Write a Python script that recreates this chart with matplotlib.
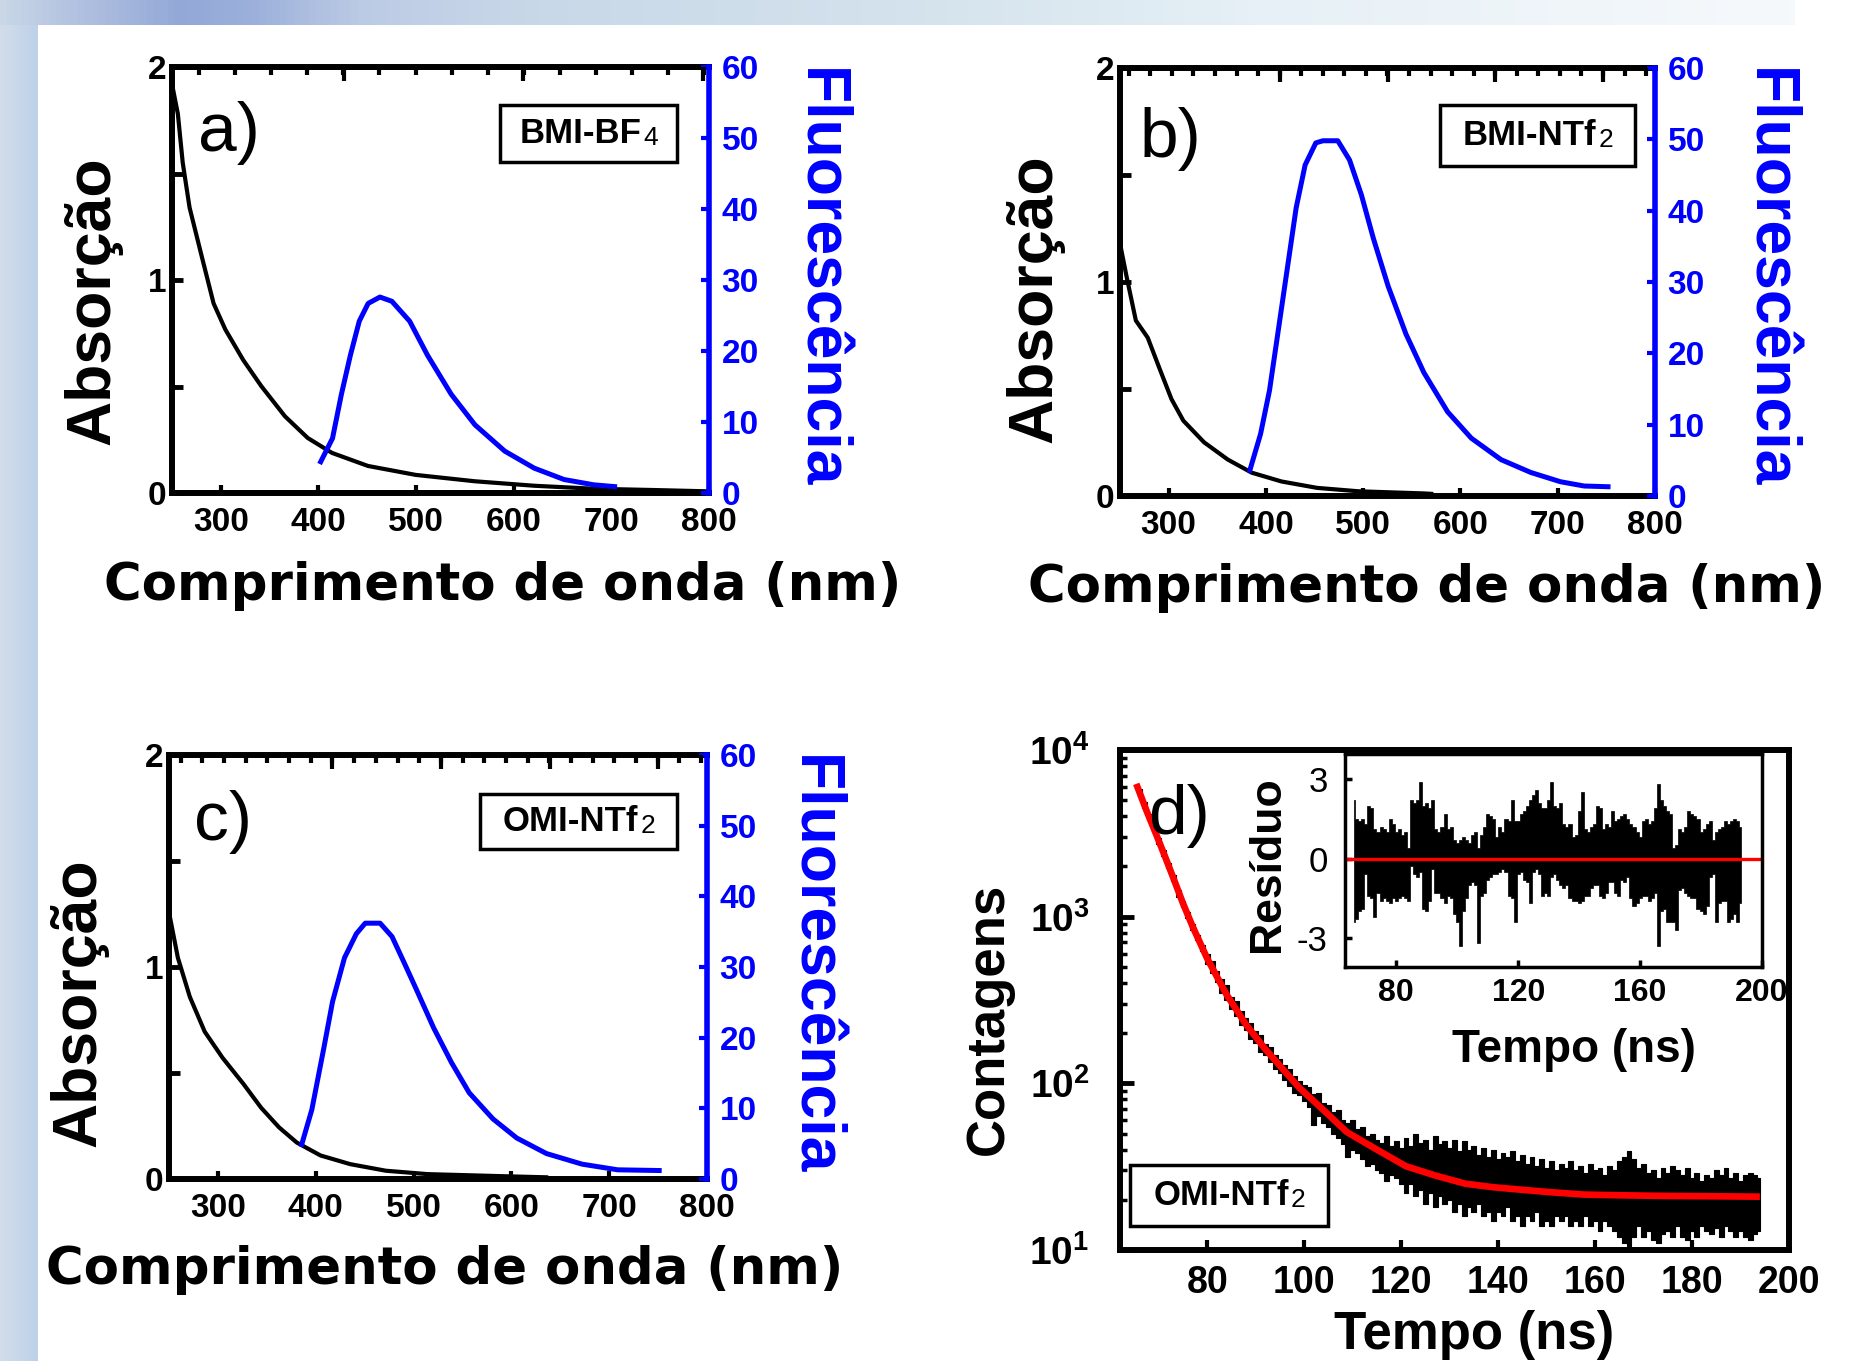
import matplotlib
matplotlib.use("Agg")
import matplotlib.pyplot as plt
import numpy as np
from matplotlib import font_manager
from matplotlib.colors import LinearSegmentedColormap
from matplotlib.patches import Rectangle
from matplotlib.ticker import LogLocator, NullFormatter

W, H, DPI = 1862, 1361, 100
BLUE = "#0000ff"

_names = {f.name for f in font_manager.fontManager.ttflist}
SANS = "Liberation Sans" if "Liberation Sans" in _names else "DejaVu Sans"
plt.rcParams["font.family"] = [SANS, "DejaVu Sans"]
plt.rcParams["font.weight"] = "bold"
plt.rcParams["axes.unicode_minus"] = False
plt.rcParams["mathtext.fontset"] = "custom"
plt.rcParams["mathtext.rm"] = SANS
plt.rcParams["mathtext.it"] = SANS + ":italic"
plt.rcParams["mathtext.bf"] = SANS + ":bold"

# ---------------- data ----------------
# a) BMI-BF4
a_abs_nm = [250, 256, 261, 268, 280.5, 292.6, 304.7, 323, 341.4, 365.7, 389.1, 414, 450.7, 499.6, 560.3, 621.2, 682, 743, 797.5]
a_abs = [1.92, 1.78, 1.55, 1.34, 1.11, 0.89, 0.767, 0.624, 0.502, 0.36, 0.258, 0.188, 0.127, 0.085, 0.055, 0.034, 0.02, 0.014, 0.008]
a_fl_nm = [402.3, 414.4, 423.5, 432.7, 441.8, 450.9, 463, 475.2, 493.4, 511.7, 536, 560.3, 590.8, 621, 651.5, 682, 703.3]
a_fl = [4.4, 7.7, 13.9, 19.4, 24.2, 26.7, 27.6, 27.0, 24.2, 19.4, 13.9, 9.6, 5.9, 3.5, 1.9, 1.15, 0.9]

# b) BMI-NTf2
b_abs_nm = [250, 257, 266.3, 278.5, 290.7, 302.9, 315.1, 336.4, 360.9, 385.4, 415.9, 452.5, 495.2, 562.4, 570]
b_abs = [1.18, 1.02, 0.82, 0.74, 0.595, 0.453, 0.352, 0.251, 0.17, 0.109, 0.068, 0.038, 0.022, 0.012, 0.01]
b_fl_nm = [383.5, 394.5, 403.7, 412.8, 422, 431.1, 440.3, 451.3, 458.6, 473.9, 486, 498.2, 510.5, 525.7, 544,
           562.4, 586.8, 611.2, 641.7, 672.3, 702.8, 727.2, 751.7]
b_fl = [3.6, 8.7, 14.8, 23.3, 31.9, 40.4, 46.4, 49.5, 49.8, 49.8, 47.1, 42.2, 36.1, 29.4, 22.7,
        17.3, 11.8, 8.1, 5.1, 3.3, 2.0, 1.4, 1.3]

# c) OMI-NTf2
c_abs_nm = [250, 259.1, 271.3, 286.5, 304.7, 326, 344.2, 362.4, 380.6, 404.9, 435.3, 471.7, 514.2, 593.2, 635.6]
c_abs = [1.258, 1.043, 0.859, 0.695, 0.572, 0.449, 0.336, 0.244, 0.172, 0.111, 0.07, 0.039, 0.023, 0.013, 0.008]
c_fl_nm = [385.7, 396, 408.1, 417.2, 429.4, 441.5, 450.6, 465.8, 478, 490.1, 502.3, 520.5, 538.7, 556.9,
           581.2, 605.5, 635.9, 672.3, 708.7, 751.1]
c_fl = [4.9, 9.8, 18.4, 25.1, 31.3, 34.7, 36.2, 36.2, 34.3, 30.7, 27.0, 21.4, 16.5, 12.2,
        8.5, 5.8, 3.6, 2.1, 1.3, 1.2]

# d) OMI-NTf2 decay (counts per 1 ns channel, 66..194 ns): upper / lower edge of the noisy trace
decay_t = np.arange(66, 195)
decay_hi = [5800, 4880, 4110, 3490, 2960, 2500, 2110, 1770, 1440, 1250,
            1060, 905, 780, 680, 600, 540, 470, 420, 390, 330,
            310, 270, 245, 230, 205, 195, 172, 165, 148, 140,
            128, 122, 110, 103, 98, 95, 86, 88, 76, 74,
            67, 69, 60, 58, 60, 53, 55, 48, 50, 46,
            44, 48, 42, 45, 41, 47, 42, 50, 44, 46,
            40, 48, 43, 45, 41, 46, 39, 45, 40, 42,
            37, 41, 36, 40, 35, 38, 36, 39, 34, 37,
            33, 36, 32, 35, 31, 34, 30, 33, 31, 34,
            30, 32, 29, 33, 30, 31, 28, 32, 30, 34,
            36, 39, 35, 31, 33, 29, 30, 27, 31, 29,
            32, 30, 28, 31, 27, 29, 26, 28, 27, 30,
            28, 31, 27, 29, 26, 28, 29, 28, 27]
decay_lo = [5370, 4500, 3790, 3230, 2740, 2300, 1950, 1630, 1320, 1150,
            980, 835, 720, 625, 520, 460, 405, 350, 315, 280,
            255, 225, 208, 185, 175, 155, 148, 135, 122, 116,
            105, 96, 88, 85, 78, 72, 56, 64, 58, 55,
            50, 47, 43, 36, 40, 38, 35, 32, 33, 30,
            29, 26, 28, 27, 25, 22, 25, 21, 23, 19,
            22, 18, 21, 19, 20, 17, 19, 16, 18, 17,
            19, 16, 17, 15, 17, 16, 18, 15, 16, 14,
            16, 15, 17, 14, 15, 14, 16, 15, 16, 14,
            15, 14, 16, 14, 15, 13, 15, 14, 13, 12,
            11, 10.5, 12, 14, 12, 13, 11.5, 11, 12.5, 13,
            12, 14, 12, 11.5, 13, 12, 14, 13, 12.5, 13.5,
            12, 14, 13, 12, 13, 12, 11.5, 12.5, 13]
fit_t = [65.6, 67.5, 69.5, 71.4, 73.2, 75.0, 77, 80, 84, 88, 92, 96, 99, 104, 108.8,
         115, 121, 127, 133.2, 139, 145.5, 151, 157.7, 165, 175, 185, 193.3]
fit_y = [6000, 4300, 3100, 2250, 1650, 1200, 870, 560, 340, 225, 160, 118, 94, 69, 51,
         40, 31.8, 28, 25, 23.8, 22.9, 22.2, 21.5, 21.3, 21.1, 21.0, 20.9]

# inset residuals (66..193 ns)
res_t = np.arange(66, 194)
res_hi = [2.2, 1.5, 1.4, 1.5, 1.3, 2.0, 1.9, 1.1, 1.0, 1.2,
          1.1, 1.0, 1.5, 1.3, 1.0, 1.1, 0.9, 1.0, 0.4, 2.2,
          2.1, 2.2, 2.9, 2.0, 2.1, 1.9, 2.2, 1.1, 1.0, 1.2,
          1.7, 1.1, 1.2, 0.7, 0.6, 0.7, 0.8, 0.7, 0.6, 0.9,
          1.0, 0.4, 0.9, 1.2, 1.7, 1.6, 1.5, 0.8, 1.2, 1.0,
          1.5, 1.4, 2.2, 1.4, 1.4, 1.7, 1.8, 2.0, 2.2, 2.4,
          2.6, 2.1, 1.9, 1.9, 2.2, 2.9, 2.0, 1.9, 2.1, 1.3,
          1.2, 1.3, 0.8, 0.9, 1.8, 2.5, 1.1, 1.0, 1.2, 1.3,
          2.0, 1.9, 1.1, 1.3, 1.2, 1.8, 1.4, 1.5, 1.6, 1.7,
          1.5, 1.3, 1.2, 1.0, 0.8, 1.4, 1.5, 1.3, 1.4, 1.9,
          2.8, 2.2, 2.0, 1.8, 1.7, 0.4, 0.5, 1.1, 1.0, 1.2,
          1.8, 1.7, 1.6, 1.5, 1.0, 1.1, 1.3, 1.4, 0.7, 1.0,
          1.1, 1.2, 1.4, 1.3, 1.4, 1.5, 1.4, 1.2]
res_lo = [-2.4, -2.3, -2.0, -1.9, -0.6, -1.4, -1.5, -2.2, -1.3, -1.6,
          -1.5, -1.6, -1.7, -1.5, -1.6, -1.5, -1.4, -1.5, -1.6, -0.3,
          -0.6, -0.7, -0.5, -1.9, -2.0, -1.6, -0.4, -1.3, -1.3, -1.5,
          -1.7, -1.4, -1.5, -2.1, -2.4, -3.3, -2.0, -1.5, -1.0, -0.9,
          -1.0, -3.2, -1.4, -1.3, -0.8, -0.7, -0.6, -0.6, -0.5, -0.4,
          -0.5, -1.4, -1.5, -2.4, -0.6, -0.5, -0.8, -0.9, -1.7, -0.5,
          -0.4, -0.6, -1.4, -1.3, -1.4, -0.7, -0.6, -0.8, -1.0, -1.1,
          -1.0, -1.5, -1.6, -1.6, -1.7, -1.6, -1.4, -1.4, -1.1, -1.0,
          -1.0, -1.4, -1.5, -1.3, -0.9, -0.9, -1.3, -1.4, -0.8, -0.9,
          -0.7, -1.5, -1.8, -1.7, -1.5, -1.4, -1.4, -1.6, -1.5, -1.3,
          -3.3, -2.0, -1.9, -2.4, -2.4, -2.4, -2.7, -1.2, -1.1, -1.3,
          -1.4, -1.5, -1.5, -1.9, -2.0, -2.1, -1.8, -0.7, -0.6, -2.4,
          -1.7, -1.6, -1.6, -2.4, -2.3, -2.1, -2.4, -1.7]


def px_rect(l, t, r, b):
    """pixel box (left, top, right, bottom) -> figure fraction rect"""
    return [l / W, 1 - b / H, (r - l) / W, (b - t) / H]


fig = plt.figure(figsize=(W / DPI, H / DPI), dpi=DPI)
fig.patch.set_facecolor("white")

# slide background bands
bg = fig.add_axes([0, 0, 1, 1], zorder=-10)
bg.set_xlim(0, W)
bg.set_ylim(H, 0)
bg.axis("off")
top_cmap = LinearSegmentedColormap.from_list("top", [
    (0.0, "#c8d6e6"), (0.04, "#b2c2e0"), (0.1, "#94a8d8"), (0.14, "#9cb0db"),
    (0.2, "#bccbe5"), (0.3, "#c9d8e8"), (0.5, "#d3e2ec"), (0.7, "#e6f0f6"),
    (0.9, "#f1f6fa"), (1.0, "#f6f9fc")])
left_cmap = LinearSegmentedColormap.from_list("left", ["#d2dde9", "#bed1ea"])
grad = np.linspace(0, 1, 256)[None, :]
bg.imshow(grad, cmap=top_cmap, extent=(0, 1795, 25, 0), aspect="auto")
bg.imshow(grad, cmap=left_cmap, extent=(0, 38, H, 25), aspect="auto")


def spectrum_panel(rect, abs_nm, abs_v, fl_nm, fl_v, top_major, top_minor):
    ax = fig.add_axes(px_rect(*rect))
    ax.plot(abs_nm, abs_v, color="black", lw=3.0)
    ax.set_xlim(250, 800)
    ax.set_ylim(0, 2)
    ax.set_xticks([300, 400, 500, 600, 700, 800])
    ax.set_yticks([0, 1, 2])
    ax.set_yticks([0.5, 1.5], minor=True)
    ax.tick_params(axis="x", direction="in", length=6, width=3, pad=10, labelsize=24)
    ax.tick_params(axis="y", which="both", direction="in", length=8, width=3.5, pad=4, labelsize=24)
    for s in ["left", "bottom", "top"]:
        ax.spines[s].set_linewidth(4.3)
    ax.spines["right"].set_visible(False)

    ax2 = ax.twinx()
    ax2.plot(fl_nm, fl_v, color=BLUE, lw=3.6)
    ax2.set_ylim(0, 60)
    ax2.set_yticks(range(0, 61, 10))
    ax2.tick_params(axis="y", direction="in", colors=BLUE, length=6, width=3, pad=9, labelsize=24)
    ax2.spines["right"].set_color(BLUE)
    ax2.spines["right"].set_linewidth(4)
    for s in ["left", "bottom", "top"]:
        ax2.spines[s].set_visible(False)

    # the short inward ticks along the top edge
    ax3 = fig.add_axes(px_rect(*rect), frameon=False)
    ax3.patch.set_visible(False)
    ax3.set_xlim(250, 800)
    ax3.xaxis.tick_top()
    ax3.set_xticks(top_major)
    ax3.set_xticks(top_minor, minor=True)
    ax3.set_yticks([])
    ax3.tick_params(axis="x", which="both", direction="in", labeltop=False, width=3, color="black")
    ax3.tick_params(axis="x", which="major", length=10)
    ax3.tick_params(axis="x", which="minor", length=6)
    return ax, ax2


spectrum_panel((172, 67, 709, 493), a_abs_nm, a_abs, a_fl_nm, a_fl,
               [426, 610, 794], np.arange(278, 800, 36.9))
spectrum_panel((1120, 68, 1655, 496), b_abs_nm, b_abs, b_fl_nm, b_fl,
               [414, 525, 636, 747], np.arange(259, 800, 22.16))
spectrum_panel((169, 755, 707, 1179), c_abs_nm, c_abs, c_fl_nm, c_fl,
               [417, 528, 639, 750], np.arange(262, 800, 22.16))

# d) decay
axd = fig.add_axes(px_rect(1120, 750, 1789, 1250))
axd.set_yscale("log")
axd.fill_between(decay_t, decay_lo, decay_hi, step="mid", color="black", lw=0.8)
axd.plot(fit_t, fit_y, color="red", lw=4.8)
axd.set_xlim(62, 200)
axd.set_ylim(10, 1e4)
axd.set_xticks([80, 100, 120, 140, 160, 180, 200])
axd.set_yticks([10, 100, 1000, 10000], [r"$10^{1}$", r"$10^{2}$", r"$10^{3}$", r"$10^{4}$"])
axd.yaxis.set_minor_locator(LogLocator(base=10, subs=np.arange(2, 10)))
axd.yaxis.set_minor_formatter(NullFormatter())
axd.tick_params(axis="x", direction="in", length=7, width=3, pad=11, labelsize=27)
axd.tick_params(axis="y", which="major", direction="in", length=10, width=3.5, pad=22, labelsize=28)
axd.tick_params(axis="y", which="minor", direction="in", length=5, width=2.5)
for s in axd.spines.values():
    s.set_linewidth(4.3)

# inset residuals
axi = fig.add_axes(px_rect(1344.5, 754, 1762, 967), zorder=5)
axi.fill_between(res_t, res_lo, res_hi, step="mid", color="black", lw=0.5)
axi.axhline(0, color="red", lw=2.4)
axi.set_xlim(63, 200)
axi.set_ylim(-4.1, 3.95)
axi.set_xticks([80, 120, 160, 200])
axi.set_yticks([-3, 0, 3])
axi.tick_params(axis="x", direction="in", length=5, width=2.5, pad=8, labelsize=23)
axi.tick_params(axis="y", direction="in", length=5, width=2.5, pad=12, labelsize=25)
for lab in axi.get_yticklabels():
    lab.set_fontweight("normal")
for s in axi.spines.values():
    s.set_linewidth(2.5)

# overlay for labels, panel letters and sample boxes (pixel coordinates)
ov = fig.add_axes([0, 0, 1, 1], zorder=50)
ov.set_xlim(0, W)
ov.set_ylim(H, 0)
ov.axis("off")
ov.patch.set_alpha(0)

for x, y in [(93, 301), (1035, 299), (79, 1003)]:
    ov.text(x, y, "Absorção", rotation=90, ha="center", va="center", fontsize=45, weight="bold")
for x, y in [(819, 278), (1768, 278), (813, 965)]:
    ov.text(x, y, "Fluorescência", rotation=-90, ha="center", va="center", fontsize=45,
            weight="bold", color=BLUE)
for x, y in [(503, 586), (1427, 588), (445, 1270)]:
    ov.text(x, y, "Comprimento de onda (nm)", ha="center", va="center", fontsize=37,
            weight="bold", family="DejaVu Sans")
ov.text(989, 1019, "Contagens", rotation=90, ha="center", va="center", fontsize=38, weight="bold")
ov.text(1474, 1335, "Tempo (ns)", ha="center", va="center", fontsize=38, weight="bold")
ov.text(1574, 1050, "Tempo (ns)", ha="center", va="center", fontsize=33, weight="bold")
ov.text(1268, 864, "Resíduo", rotation=90, ha="center", va="center", fontsize=32, weight="bold")

for x, y, s in [(198, 151, "a)"), (1140, 157, "b)"), (194, 840, "c)"), (1148, 834, "d)")]:
    ov.text(x, y, s, ha="left", va="baseline", fontsize=50, weight="normal")

for (l, t, r, b), main, sub in [((500, 105, 677, 162), "BMI-BF", "4"),
                                ((1440, 105, 1635, 166), "BMI-NTf", "2"),
                                ((480, 794, 677, 849), "OMI-NTf", "2"),
                                ((1130, 1165, 1328, 1226), "OMI-NTf", "2")]:
    ov.add_patch(Rectangle((l, t), r - l, b - t, fill=False, lw=2.5, edgecolor="black"))
    cx, cy = (l + r) / 2 - 8, (t + b) / 2
    t1 = ov.text(cx, cy, main, ha="center", va="center", fontsize=25, weight="bold")
    ov.annotate(sub, xy=(1, 0), xycoords=t1, xytext=(1.5, 0), textcoords="offset points",
                ha="left", va="bottom", fontsize=19, weight="normal")

fig.savefig("out.png", dpi=DPI)
